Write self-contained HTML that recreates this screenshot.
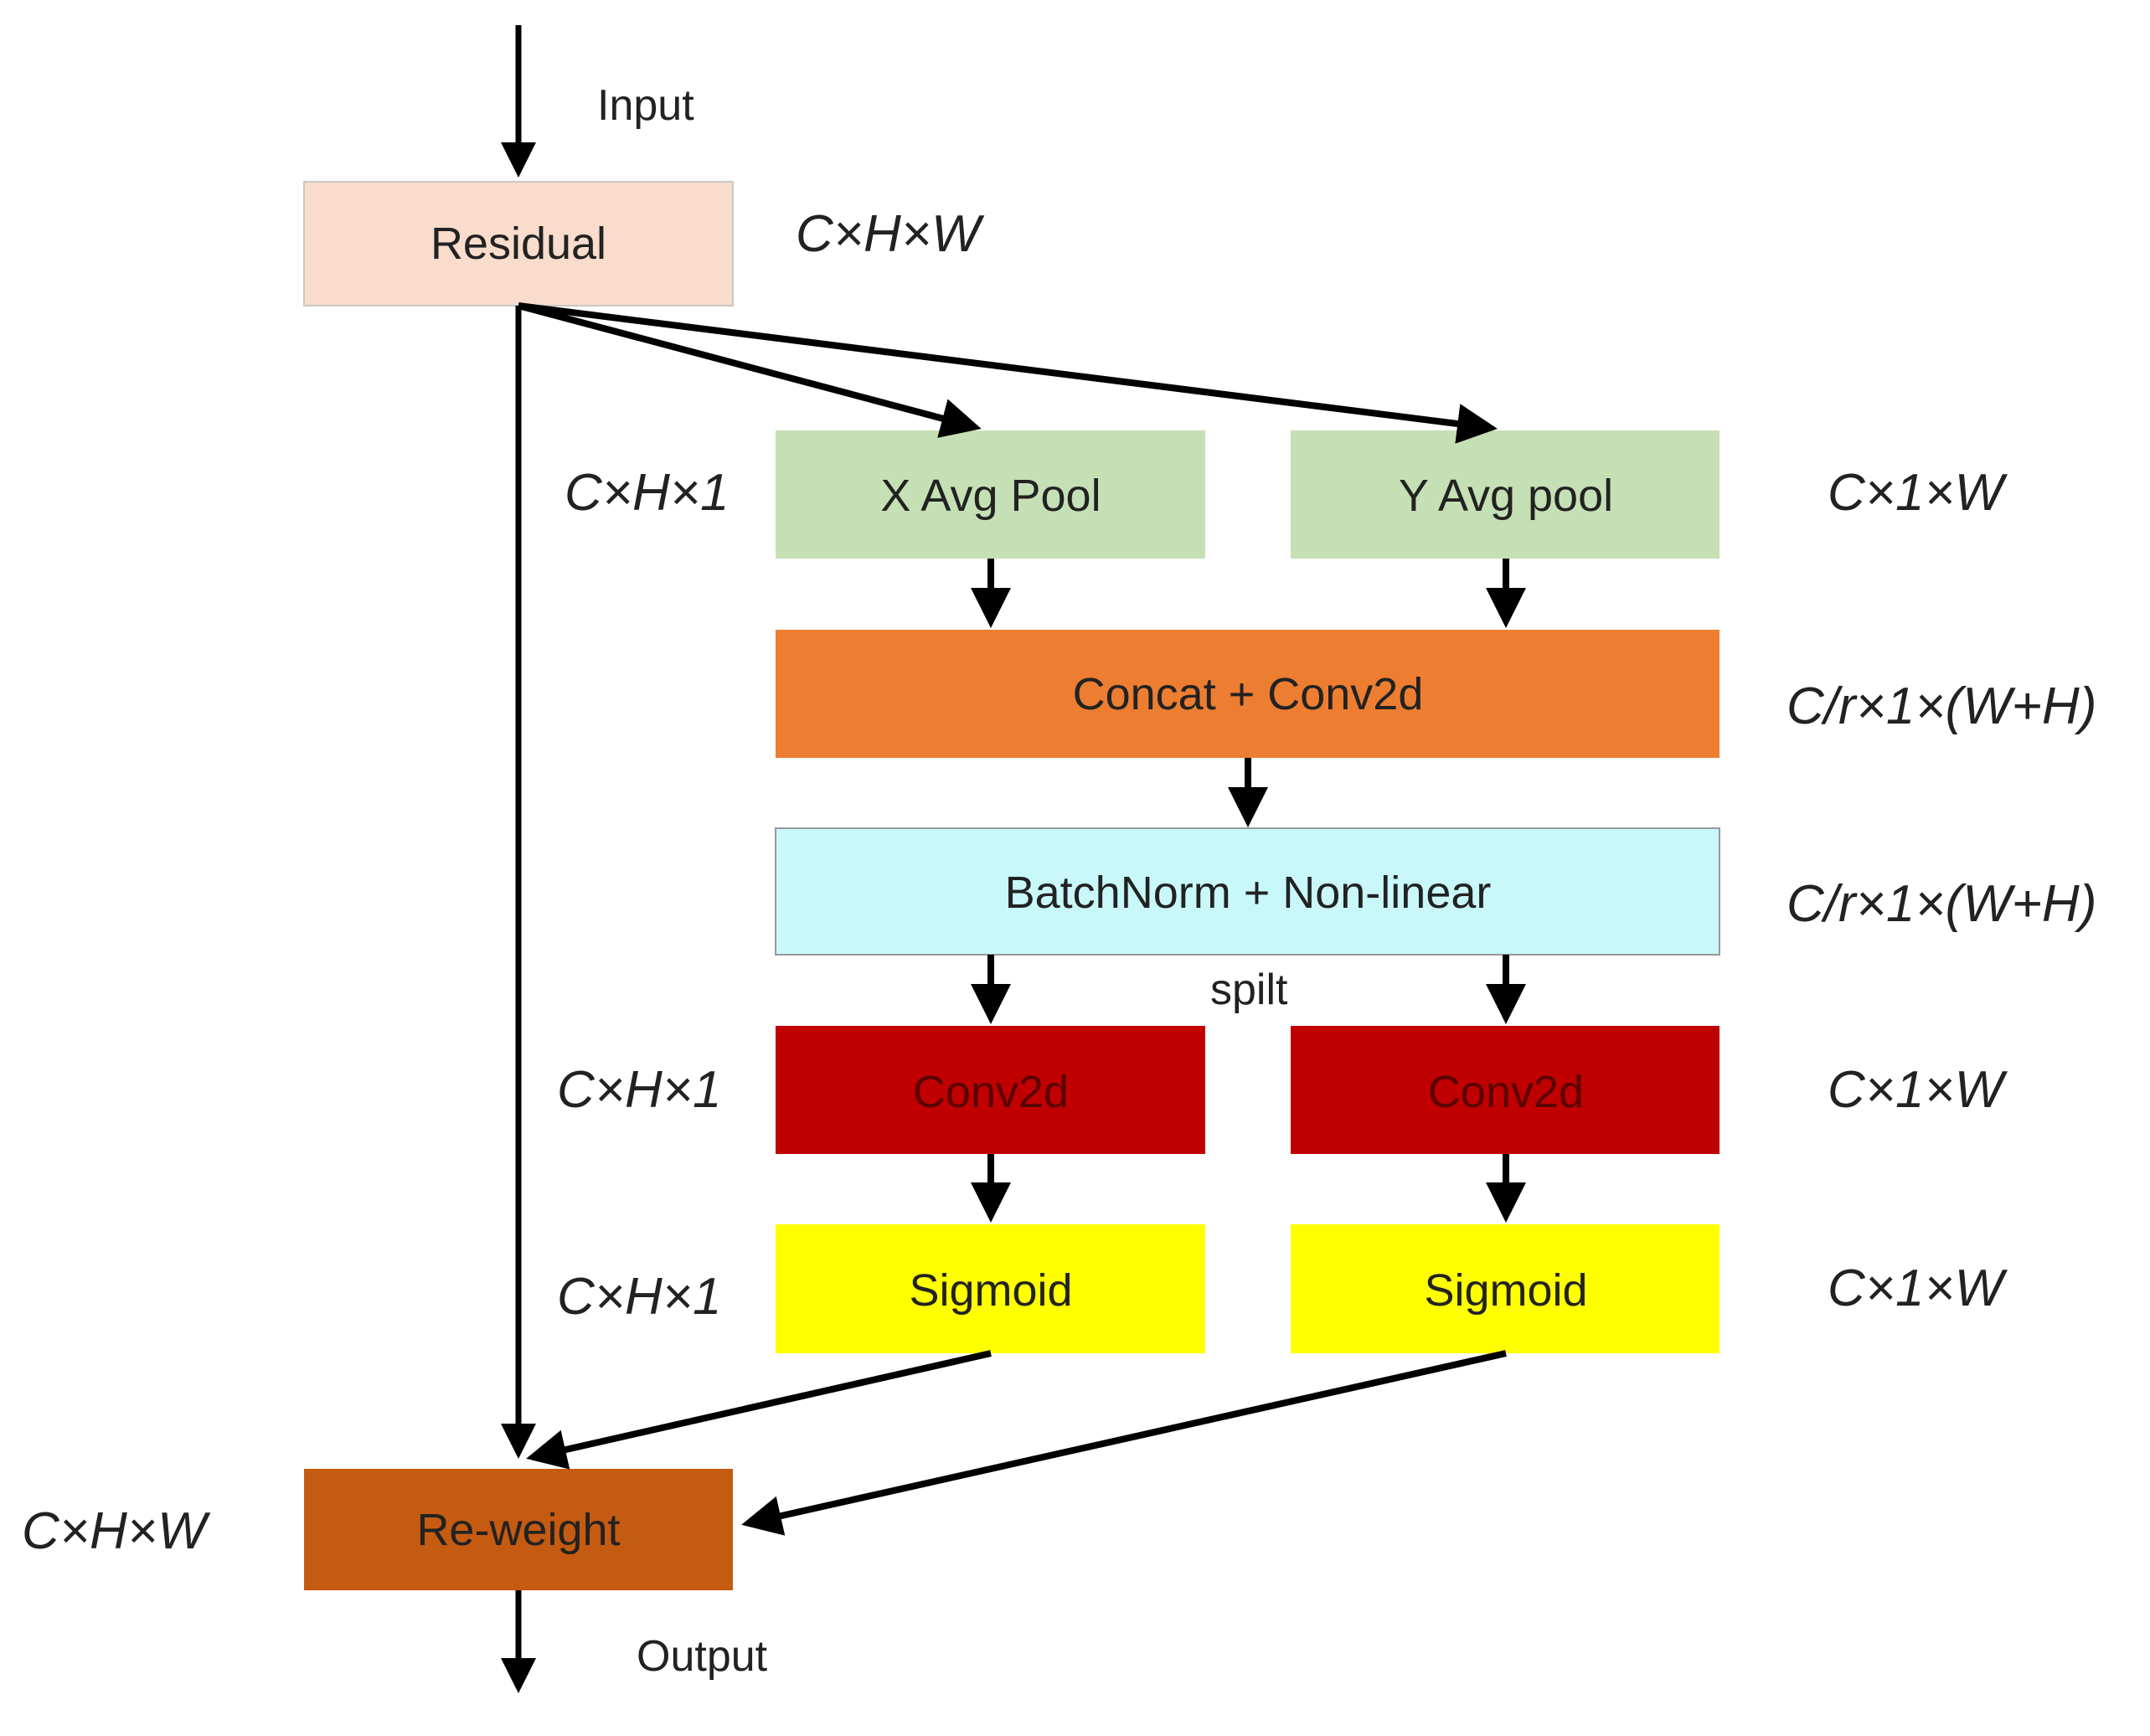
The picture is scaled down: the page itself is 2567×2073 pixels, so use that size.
<!DOCTYPE html>
<html><head><meta charset="utf-8"><style>
html,body{margin:0;padding:0;background:#fff;}
</style></head><body>
<svg width="2567" height="2068" viewBox="0 0 2567 2068" xmlns="http://www.w3.org/2000/svg" font-family="Liberation Sans, DejaVu Sans, sans-serif">
<defs>
<marker id="a" markerWidth="6" markerHeight="6" refX="5" refY="3" orient="auto" markerUnits="strokeWidth">
<path d="M0,0 L6,3 L0,6 z" fill="#000"/></marker>
</defs>
<g stroke="#c8c8c8" stroke-width="2">
<rect x="363" y="217" width="512" height="148" fill="#f9dccb"/>
<rect x="926" y="514" width="513" height="153" fill="#c5e0b4" stroke="none"/>
<rect x="1541" y="514" width="512" height="153" fill="#c5e0b4" stroke="none"/>
<rect x="926" y="752" width="1127" height="153" fill="#ed7d31" stroke="none"/>
<rect x="926" y="989" width="1127" height="151" fill="#c8f8fa" stroke="#999"/>
<rect x="926" y="1225" width="513" height="153" fill="#c00000" stroke="none"/>
<rect x="1541" y="1225" width="512" height="153" fill="#c00000" stroke="none"/>
<rect x="926" y="1462" width="513" height="154" fill="#ffff00" stroke="none"/>
<rect x="1541" y="1462" width="512" height="154" fill="#ffff00" stroke="none"/>
<rect x="363" y="1754" width="512" height="145" fill="#c55a11" stroke="none"/>
</g>
<g stroke="#000" stroke-width="8" fill="none">
<line x1="619" y1="30" x2="619" y2="205" marker-end="url(#a)" stroke-width="7"/>
<line x1="619" y1="365" x2="619" y2="1735" marker-end="url(#a)" stroke-width="7"/>
<line x1="619" y1="365" x2="1164" y2="510" marker-end="url(#a)"/>
<line x1="619" y1="365" x2="1780" y2="511" marker-end="url(#a)"/>
<line x1="1183" y1="667" x2="1183" y2="742" marker-end="url(#a)"/>
<line x1="1798" y1="667" x2="1798" y2="742" marker-end="url(#a)"/>
<line x1="1490" y1="905" x2="1490" y2="980" marker-end="url(#a)"/>
<line x1="1183" y1="1140" x2="1183" y2="1215" marker-end="url(#a)"/>
<line x1="1798" y1="1140" x2="1798" y2="1215" marker-end="url(#a)"/>
<line x1="1183" y1="1378" x2="1183" y2="1452" marker-end="url(#a)"/>
<line x1="1798" y1="1378" x2="1798" y2="1452" marker-end="url(#a)"/>
<line x1="1183" y1="1616" x2="636" y2="1740" marker-end="url(#a)"/>
<line x1="1798" y1="1616" x2="893" y2="1819" marker-end="url(#a)"/>
<line x1="619" y1="1899" x2="619" y2="2015" marker-end="url(#a)" stroke-width="7"/>
</g>
<g font-size="54" text-anchor="middle" fill="#222">
<text x="619" y="309">Residual</text>
<text x="1183" y="610">X Avg Pool</text>
<text x="1798" y="610">Y Avg pool</text>
<text x="1490" y="847">Concat + Conv2d</text>
<text x="1490" y="1084">BatchNorm + Non-linear</text>
<text x="1183" y="1322" fill="#5a0000">Conv2d</text>
<text x="1798" y="1322" fill="#5a0000">Conv2d</text>
<text x="1183" y="1559">Sigmoid</text>
<text x="1798" y="1559">Sigmoid</text>
<text x="619" y="1845">Re-weight</text>
</g>
<g font-size="52" fill="#222">
<text x="713" y="143">Input</text>
<text x="1445" y="1199">spilt</text>
<text x="760" y="1995">Output</text>
</g>
<g font-size="62" font-style="italic" fill="#222">
<text x="950" y="300">C×H×W</text>
<text x="674" y="609">C×H×1</text>
<text x="2182" y="609">C×1×W</text>
<text x="2133" y="864">C/r×1×(W+H)</text>
<text x="2133" y="1100">C/r×1×(W+H)</text>
<text x="665" y="1322">C×H×1</text>
<text x="2182" y="1322">C×1×W</text>
<text x="665" y="1569">C×H×1</text>
<text x="2182" y="1559">C×1×W</text>
<text x="26" y="1849">C×H×W</text>
</g>
</svg>
</body></html>
